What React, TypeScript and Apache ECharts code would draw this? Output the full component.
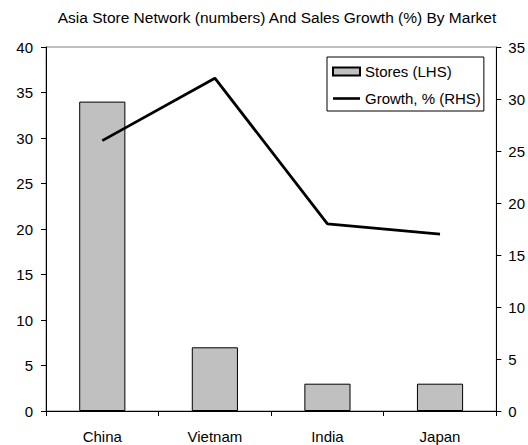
import React, { useEffect, useRef } from "react";
import * as echarts from "echarts";

const titleText = "Asia Store Network (numbers) And Sales Growth (%) By Market";
const categories = ["China", "Vietnam", "India", "Japan"];
const stores = [34, 7, 3, 3];
const growth = [26, 32, 18, 17];
const storesName = "Stores (LHS)";
const growthName = "Growth, % (RHS)";

export default function App() {
  const ref = useRef<HTMLDivElement>(null);
  useEffect(() => {
    document.body.style.margin = "0";
    const chart = echarts.init(ref.current!, null, { renderer: "svg" });
    const font = "Arial, 'Liberation Sans', sans-serif";
    chart.setOption({
      animation: false,
      backgroundColor: "#ffffff",
      title: {
        text: titleText,
        left: 272,
        textAlign: "center",
        top: 4,
        textStyle: { fontFamily: font, fontSize: 15.5, fontWeight: "normal", color: "#000" },
      },
      legend: {
        left: 327,
        top: 57,
        orient: "vertical",
        padding: [7, 3, 5, 5],
        itemGap: 12,
        itemWidth: 27,
        itemHeight: 8,
        borderColor: "#000",
        borderWidth: 1,
        textStyle: { fontFamily: font, fontSize: 15, color: "#000", lineHeight: 15 },
        data: [
          { name: storesName, icon: "rect" },
          { name: growthName, icon: "path://M0,0L27,0L27,2.6L0,2.6Z" },
        ],
      },
      grid: {
        left: 46,
        right: 27,
        top: 47,
        bottom: 34,
        show: true,
        borderColor: "#808080",
        borderWidth: 1,
      },
      xAxis: {
        type: "category",
        data: categories,
        axisLine: { lineStyle: { color: "#000", width: 1 } },
        axisTick: { show: true, length: 5, lineStyle: { color: "#000" } },
        axisLabel: { fontFamily: font, fontSize: 15, color: "#000", margin: 18 },
      },
      yAxis: [
        {
          type: "value",
          min: 0,
          max: 40,
          interval: 5,
          splitLine: { show: false },
          axisLine: { show: true, lineStyle: { color: "#000" } },
          axisTick: { show: true, length: 5, lineStyle: { color: "#000" } },
          axisLabel: { fontFamily: font, fontSize: 15, color: "#000", margin: 13 },
        },
        {
          type: "value",
          min: 0,
          max: 35,
          interval: 5,
          position: "right",
          splitLine: { show: false },
          axisLine: { show: true, lineStyle: { color: "#000" } },
          axisTick: { show: true, length: 5, lineStyle: { color: "#000" } },
          axisLabel: { fontFamily: font, fontSize: 15, color: "#000", margin: 12 },
        },
      ],
      series: [
        {
          name: storesName,
          type: "bar",
          data: stores,
          barWidth: "41%",
          itemStyle: { color: "#c0c0c0", borderColor: "#000", borderWidth: 1 },
        },
        {
          name: growthName,
          type: "line",
          yAxisIndex: 1,
          data: growth,
          symbol: "none",
          lineStyle: { color: "#000", width: 2.8 },
          itemStyle: { color: "#000" },
        },
      ],
    });
    return () => chart.dispose();
  }, []);
  return <div ref={ref} style={{ width: 528, height: 445 }} />;
}
